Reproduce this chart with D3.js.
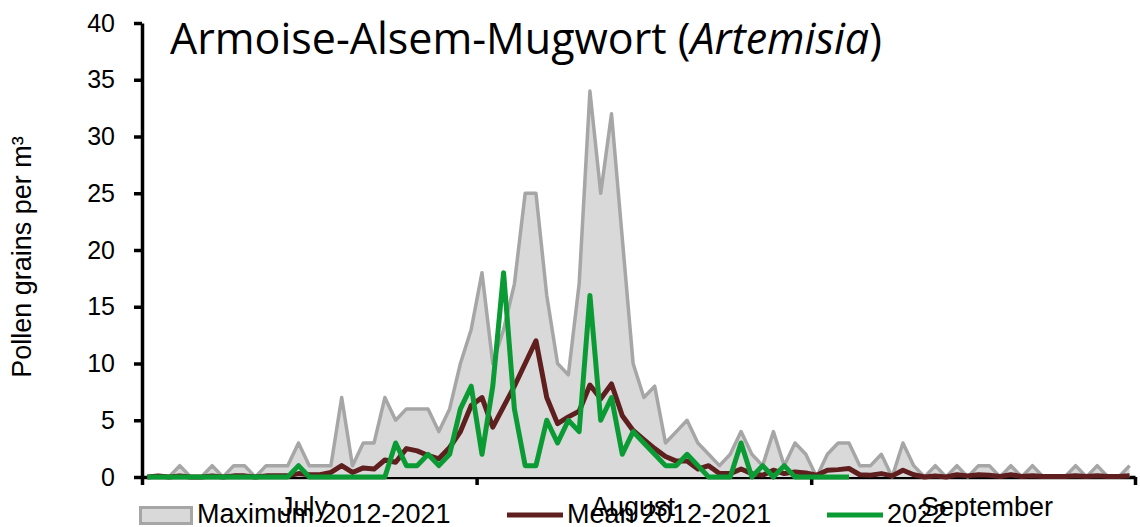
<!DOCTYPE html>
<html>
<head>
<meta charset="utf-8">
<script src="https://cdn.jsdelivr.net/npm/d3@7"></script>
<style>
  body { margin: 0; background: #fff; }
  text { font-family: "Liberation Sans", Arial, sans-serif; fill: #000; }
</style>
</head>
<body>
<div id="chart"></div>
<script>
"use strict";

/* Daily values, 1 July to 30 September (92 days) */

const MAXIMUM = [
  0, 0, 0, 1, 0, 0, 1, 0, 1, 1,
  0, 1, 1, 1, 3, 1, 1, 1, 7, 1,
  3, 3, 7, 5, 6, 6, 6, 4, 6, 10,
  13, 18, 10, 13, 17, 25, 25, 16, 10, 9,
  17, 34, 25, 32, 21, 10, 7, 8, 3, 4,
  5, 3, 2, 1, 2, 4, 2, 1, 4, 1,
  3, 2, 0, 2, 3, 3, 1, 1, 2, 0,
  3, 1, 0, 1, 0, 1, 0, 1, 1, 0,
  1, 0, 1, 0, 0, 0, 1, 0, 1, 0,
  0, 1
];

const MEAN = [
  0, 0.1, 0, 0.1, 0, 0, 0.1, 0, 0.1, 0.1,
  0, 0.1, 0.1, 0.1, 0.3, 0.2, 0.2, 0.4, 1.0, 0.4,
  0.8, 0.7, 1.5, 1.3, 2.5, 2.3, 1.9, 1.6, 2.6, 4.0,
  6.3, 7.0, 4.4, 6.2, 8.0, 10.0, 12.0, 7.0, 4.7, 5.3,
  5.8, 8.1, 6.9, 8.2, 5.4, 4.1, 3.3, 2.5, 1.8, 1.4,
  1.4, 0.7, 1.0, 0.3, 0.3, 0.7, 0.3, 0.15, 0.6, 0.3,
  0.45, 0.35, 0.15, 0.6, 0.65, 0.75, 0.2, 0.15, 0.3, 0.1,
  0.6, 0.2, 0, 0.1, 0, 0.2, 0.1, 0.2, 0.15, 0.05,
  0.2, 0.05, 0.1, 0.05, 0.05, 0.05, 0.1, 0.05, 0.1, 0.05,
  0.05, 0.1
];

// 2022 stops on 4 September
const Y2022 = [
  0, 0, 0, 0, 0, 0, 0, 0, 0, 0,
  0, 0, 0, 0, 1, 0, 0, 0, 0, 0,
  0, 0, 0, 3, 1, 1, 2, 1, 2, 6,
  8, 2, 8, 18, 6, 1, 1, 5, 3, 5,
  4, 16, 5, 7, 2, 4, 3, 2, 1, 1,
  2, 1, 0, 0, 0, 3, 0, 1, 0, 1,
  0, 0, 0, 0, 0, 0,
  null, null, null, null, null, null, null, null, null, null,
  null, null, null, null, null, null, null, null, null, null,
  null, null, null, null, null, null
];

const Y_TICKS = [0, 5, 10, 15, 20, 25, 30, 35, 40];
const MONTHS = ["July", "August", "September"];
// day of month where each month label sits
const MONTH_LABEL_DAY = [16, 15.5, 17.3];

const LEGEND = [
  { label: "Maximum 2012-2021", type: "area" },
  { label: "Mean 2012-2021", type: "mean" },
  { label: "2022", type: "y2022" }
];

const COLORS = {
  areaFill: "#d9d9d9",
  areaLine: "#a6a6a6",
  mean: "#5e1f1e",
  y2022: "#0b9b34"
};

const START = new Date(2022, 6, 1);
const END = new Date(2022, 9, 1);
const DAYS = d3.timeDay.range(START, END);

/* svg and scales */

const svg = d3.select("#chart")
  .append("svg")
  .attr("width", 1140)
  .attr("height", 527);

const x = d3.scaleTime()
  .domain([START, END])
  .range([142, 1135]);

const y = d3.scaleLinear()
  .domain([0, 40])
  .range([477, 23]);

// points sit in the middle of their day
function xDay(i) {
  return x(d3.timeHour.offset(DAYS[i], 12));
}

/* axes first, the series are drawn over them */

const yAxis = svg.append("g")
  .attr("transform", `translate(${x.range()[0]},0)`)
  .call(d3.axisLeft(y)
    .tickValues(Y_TICKS)
    .tickSize(8)
    .tickPadding(19)
    .tickSizeOuter(0));

const xAxis = svg.append("g")
  .attr("transform", `translate(0,${y(0)})`)
  .call(d3.axisBottom(x)
    .tickValues(d3.timeMonth.range(START, d3.timeDay.offset(END, 1)))
    .tickSize(8)
    .tickFormat("")
    .tickSizeOuter(0));

svg.selectAll(".domain, .tick line")
  .attr("stroke", "#000")
  .attr("stroke-width", 3.5);

yAxis.selectAll(".tick text")
  .attr("font-size", 25)
  .attr("font-family", "Liberation Sans, Arial, sans-serif");

svg.selectAll(".month-label")
  .data(MONTHS)
  .enter()
  .append("text")
  .attr("class", "month-label")
  .attr("x", (d, i) => x(new Date(2022, 6 + i, 1, MONTH_LABEL_DAY[i] * 24 - 24)))
  .attr("y", 516)
  .attr("text-anchor", "middle")
  .attr("font-size", 27)
  .text(d => d);

/* series */

const idx = d3.range(DAYS.length);

const area = d3.area()
  .x(i => xDay(i))
  .y0(y(0))
  .y1(i => y(MAXIMUM[i]));

svg.append("path")
  .datum(idx)
  .attr("d", area)
  .attr("fill", COLORS.areaFill);

function drawLine(values, color, width) {
  const line = d3.line()
    .defined(i => values[i] !== null)
    .x(i => xDay(i))
    .y(i => y(values[i]));
  svg.append("path")
    .datum(idx)
    .attr("d", line)
    .attr("fill", "none")
    .attr("stroke", color)
    .attr("stroke-width", width)
    .attr("stroke-linejoin", "round");
}

drawLine(MAXIMUM, COLORS.areaLine, 3.5);
drawLine(MEAN, COLORS.mean, 5);
drawLine(Y2022, COLORS.y2022, 5);

/* title */

const title = svg.append("text")
  .attr("x", 170)
  .attr("y", 54)
  .attr("font-size", 43)
  .style("font-family", "'Open Sans', sans-serif");
title.append("tspan").text("Armoise-Alsem-Mugwort (");
title.append("tspan").attr("font-style", "italic").text("Artemisia");
title.append("tspan").text(")");

/* y axis label */

svg.append("text")
  .attr("transform", "translate(31,257) rotate(-90)")
  .attr("text-anchor", "middle")
  .attr("font-size", 27)
  .text("Pollen grains per m³");

/* legend */

const LEGEND_X = [139, 507, 827];
const legend = svg.selectAll(".legend")
  .data(LEGEND)
  .enter()
  .append("g")
  .attr("class", "legend")
  .attr("transform", (d, i) => `translate(${LEGEND_X[i]},515)`);

legend.each(function (d) {
  const g = d3.select(this);
  if (d.type === "area") {
    g.append("rect")
      .attr("x", 1.5).attr("y", -7.5)
      .attr("width", 51).attr("height", 16)
      .attr("fill", COLORS.areaFill)
      .attr("stroke", COLORS.areaLine)
      .attr("stroke-width", 3);
  } else {
    g.append("line")
      .attr("x1", 0).attr("x2", 56)
      .attr("stroke", COLORS[d.type])
      .attr("stroke-width", 5);
  }
  g.append("text")
    .attr("x", d.type === "area" ? 58 : 60)
    .attr("y", 8)
    .attr("font-size", 27)
    .text(d.label);
});
</script>
</body>
</html>
